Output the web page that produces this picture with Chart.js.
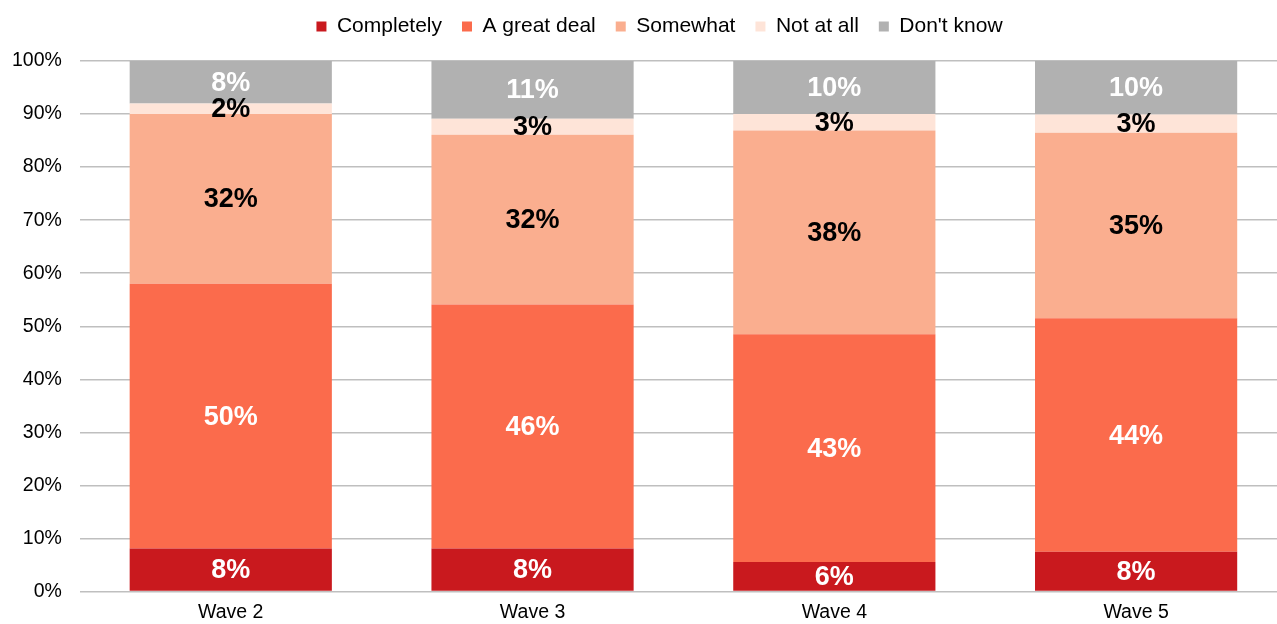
<!DOCTYPE html>
<html>
<head>
<meta charset="utf-8">
<script src="https://cdn.jsdelivr.net/npm/chart.js@4.4.0/dist/chart.umd.min.js"></script>
<style>
  html, body { margin: 0; padding: 0; background: #fff; overflow: hidden; }
  #wrap { width: 1287px; height: 624px; }
</style>
</head>
<body>
<div id="wrap"><canvas id="myChart"></canvas></div>
<script>
const waves = ["Wave 2", "Wave 3", "Wave 4", "Wave 5"];
const completely = [8.1, 8.1, 5.6, 7.5];
const greatDeal = [49.9, 46.0, 42.9, 44.0];
const somewhat = [32.0, 32.0, 38.4, 35.0];
const notAtAll = [2.0, 3.0, 3.1, 3.4];
const dontKnow = [8.0, 10.9, 10.0, 10.1];

const fontFamily = "'Liberation Sans', Arial, sans-serif";
const gridGray = "#bfbfbf";

function series(label, values, color, labelColor) {
  return {
    label: label,
    data: values,
    backgroundColor: color,
    borderWidth: 0,
    labelColor: labelColor,
    barPercentage: 0.67,
    categoryPercentage: 1.0,
  };
}

const data = {
  labels: waves,
  datasets: [
    series('Completely', completely, "#c9191e", "#ffffff"),
    series('A great deal', greatDeal, "#fb6b4c", "#ffffff"),
    series('Somewhat', somewhat, "#faae8f", "#000000"),
    series('Not at all', notAtAll, "#fee4d8", "#000000"),
    series("Don't know", dontKnow, "#b1b1b1", "#ffffff"),
  ]
};

// value labels in the middle of each segment
const valueLabels = {
  id: 'valueLabels',
  afterDatasetsDraw(chart) {
    const c = chart.ctx;
    c.save();
    c.font = "bold 27px " + fontFamily;
    c.textAlign = 'center';
    c.textBaseline = 'middle';
    chart.data.datasets.forEach((ds, i) => {
      const meta = chart.getDatasetMeta(i);
      meta.data.forEach((bar, j) => {
        const v = ds.data[j];
        c.fillStyle = ds.labelColor;
        c.fillText(Math.round(v) + '%', bar.x, (bar.y + bar.base) / 2 + 1);
      });
    });
    c.restore();
  }
};

// extra room under the legend, and nudge it a bit
const legendMargin = {
  id: 'legendMargin',
  beforeInit(chart) {
    const fit = chart.legend.fit;
    chart.legend.fit = function() {
      fit.bind(chart.legend)();
      this.height += 10;
    };
  },
  afterLayout(chart) {
    const lg = chart.legend;
    lg.left += 19;
    lg.right += 19;
    lg.top -= 4;
    lg.bottom -= 4;
  }
};

const config = {
  type: 'bar',
  data: data,
  options: {
    responsive: true,
    maintainAspectRatio: false,
    animation: false,
    layout: { padding: { left: -6, right: 0, top: 0, bottom: -9 } },
    plugins: {
      legend: {
        position: 'top',
        labels: {
          boxWidth: 10,
          boxHeight: 10,
          padding: 20,
          color: "#000",
          font: { size: 21, family: fontFamily }
        }
      },
      tooltip: { enabled: false },
    },
    scales: {
      x: {
        stacked: true,
        grid: { display: false, drawTicks: false },
        border: { display: false },
        ticks: { color: "#000", font: { size: 19.5, family: fontFamily }, padding: 9 }
      },
      y: {
        stacked: true,
        min: 0,
        max: 100,
        grid: { color: gridGray, lineWidth: 1.5, drawTicks: false },
        border: { display: false },
        ticks: {
          stepSize: 10,
          padding: 18,
          color: "#000",
          font: { size: 19.5, family: fontFamily },
          callback: (v) => v + '%'
        }
      }
    }
  },
  plugins: [valueLabels, legendMargin]
};

new Chart("myChart", config);
</script>
</body>
</html>
